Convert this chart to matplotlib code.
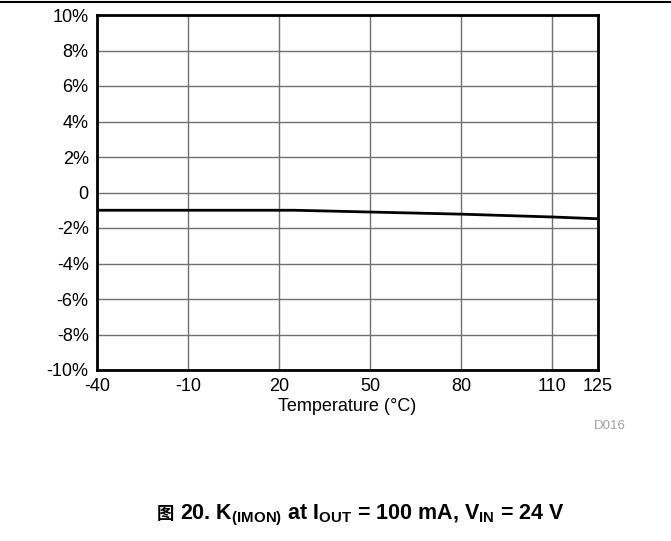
import matplotlib
matplotlib.use("Agg")
import matplotlib.pyplot as plt
from matplotlib.lines import Line2D

plt.rcParams['font.family'] = ['Liberation Sans', 'Noto Sans CJK SC', 'DejaVu Sans']
plt.rcParams['mathtext.fontset'] = 'custom'
plt.rcParams['mathtext.rm'] = 'Liberation Sans'
plt.rcParams['mathtext.bf'] = 'Liberation Sans:bold'

# data
temps = [-40, -10, 20, 25, 50, 80, 110, 125]
kimon = [-1.0, -1.0, -1.0, -1.0, -1.1, -1.22, -1.38, -1.48]
xticks = [-40, -10, 20, 50, 80, 110, 125]
yticks = [-10, -8, -6, -4, -2, 0, 2, 4, 6, 8, 10]
ylabels = ['-10%', '-8%', '-6%', '-4%', '-2%', '0', '2%', '4%', '6%', '8%', '10%']

W, H = 671, 541
fig = plt.figure(figsize=(W / 100, H / 100), dpi=100)
ax = fig.add_axes([97 / W, 1 - 370 / H, (598 - 97) / W, (370 - 15) / H])

ax.plot(temps, kimon, color='black', lw=2)
ax.set_xlim(-40, 125)
ax.set_ylim(-10, 10)
ax.set_xticks(xticks)
ax.set_xticklabels([str(t) for t in xticks])
ax.set_yticks(yticks)
ax.set_yticklabels(ylabels)
ax.grid(True, color='#707070', lw=1)
ax.tick_params(length=0, labelsize=13, pad=6)
for s in ax.spines.values():
    s.set_linewidth(2)
ax.set_xlabel('Temperature (°C)', fontsize=13, labelpad=2)

# top rule across the page
fig.add_artist(Line2D([0, 1], [1 - 2 / H, 1 - 2 / H], color='black', lw=1.5))

fig.text(610 / W, 1 - 426 / H, 'D016', color='#a0a0a0', fontsize=9.5, ha='center', va='center')

fig.text(174 / W, 1 - 514 / H, '图', fontsize=12.5, fontweight='bold',
         family=['Noto Sans CJK SC'], ha='right', va='center')
fig.text(180 / W, 1 - 515 / H,
         r'20. K$_{\mathbf{(IMON)}}$ at I$_{\mathbf{OUT}}$ = 100 mA, V$_{\mathbf{IN}}$ = 24 V',
         fontsize=15.5, fontweight='bold', ha='left', va='center')

fig.savefig('out.png', dpi=100)
